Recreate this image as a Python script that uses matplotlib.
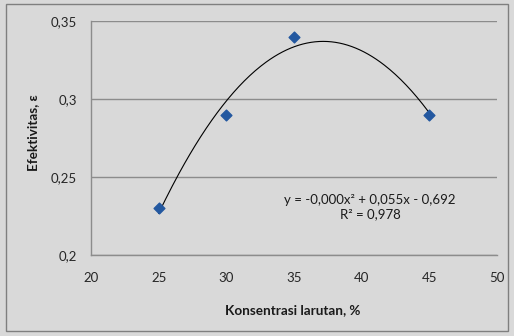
import matplotlib.pyplot as plt
import numpy as np
from matplotlib.patches import Rectangle
from matplotlib.ticker import FixedLocator, FixedFormatter

konsentrasi = [25, 30, 35, 45]
efektivitas = [0.23, 0.29, 0.34, 0.29]
x_ticks = [20, 25, 30, 35, 40, 45, 50]
y_ticks = [0.2, 0.25, 0.3, 0.35]
y_tick_labels = ['0,2', '0,25', '0,3', '0,35']
equation = 'y = -0,000x² + 0,055x - 0,692\nR² = 0,978'

plt.rcParams['font.family'] = ['Lato', 'DejaVu Sans']
bg = '#d9d9d9'
grid_col = '#8c8c8c'

fig = plt.figure(figsize=(5.14, 3.36), dpi=100, facecolor=bg)
fig.patches.append(Rectangle((6 / 514, 5 / 336), 502 / 514, 327 / 336, transform=fig.transFigure,
                             fill=False, edgecolor='#7f7f7f', linewidth=1.0))
ax = fig.add_axes([91 / 514, 1 - 255 / 336, 406 / 514, 234 / 336])
ax.set_facecolor(bg)

# polynomial trendline (order 2) fitted to the points
coef = np.polyfit(konsentrasi, efektivitas, 2)
xs = np.linspace(min(konsentrasi), max(konsentrasi), 200)
ax.plot(xs, np.polyval(coef, xs), color='black', linewidth=0.8, zorder=2)
ax.scatter(konsentrasi, efektivitas, marker='D', s=30, color='#2358a0', zorder=3)

ax.set_xlim(20, 50)
ax.set_ylim(0.2, 0.35)
ax.xaxis.set_major_locator(FixedLocator(x_ticks))
ax.yaxis.set_major_locator(FixedLocator(y_ticks))
ax.yaxis.set_major_formatter(FixedFormatter(y_tick_labels))
ax.tick_params(length=0, labelsize=9.5, colors='#262626', pad=10)
ax.tick_params(axis='x', pad=12)

ax.grid(True, axis='y', color=grid_col, linewidth=1.0)
ax.set_axisbelow(True)
for s in ['top', 'right']:
    ax.spines[s].set_visible(False)
for s in ['left', 'bottom']:
    ax.spines[s].set_color(grid_col)
    ax.spines[s].set_linewidth(1.0)

ax.text(370 / 514, 1 - 207 / 336, equation, ha='center', va='center', fontsize=9.5,
        color='#1a1a1a', linespacing=1.3, transform=fig.transFigure)

fig.text(293 / 514, 1 - 310 / 336, 'Konsentrasi larutan, %', ha='center', va='center',
         fontsize=9.7, fontweight='bold', color='#1a1a1a')
fig.text(33 / 514, 1 - 133 / 336, 'Efektivitas, ε', ha='center', va='center', rotation=90,
         fontsize=9.7, fontweight='bold', color='#1a1a1a')

fig.savefig('out.png', dpi=100, facecolor=bg)
